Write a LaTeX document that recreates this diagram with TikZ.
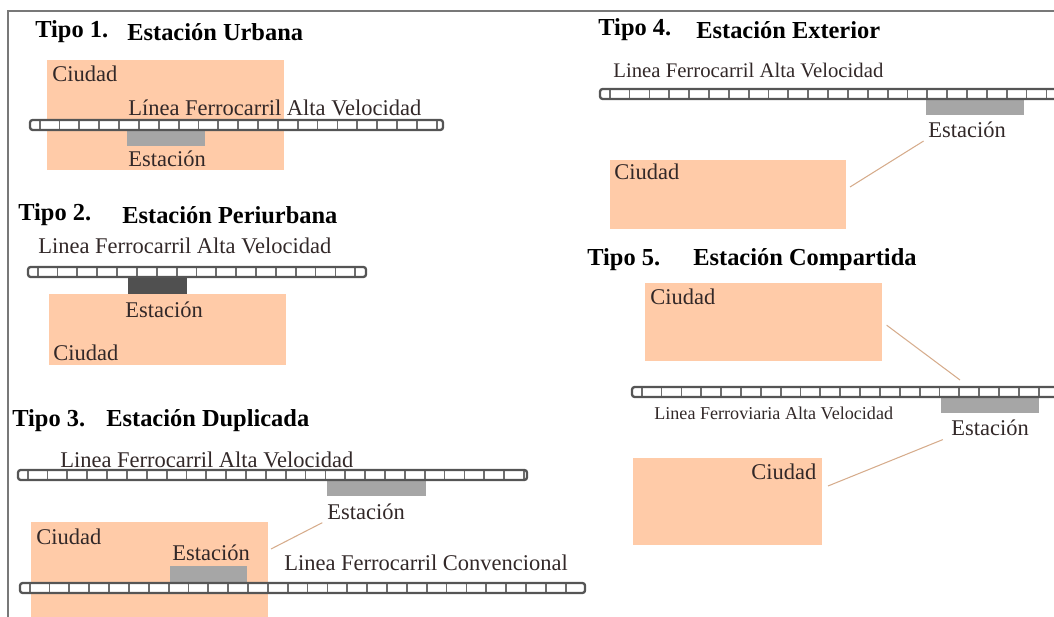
\documentclass[tikz,border=0pt]{standalone}
\usepackage{fontspec}
\setmainfont{Liberation Serif}
\newfontfamily\serifface{Liberation Serif}
\usetikzlibrary{fit}

\definecolor{peach}{RGB}{255,203,168}
\definecolor{stgray}{RGB}{166,166,166}
\definecolor{stdark}{RGB}{80,80,80}
\definecolor{railc}{RGB}{85,85,85}
\definecolor{tiec}{RGB}{110,110,110}
\definecolor{leadc}{RGB}{214,172,140}
\definecolor{ink}{RGB}{50,40,40}
\definecolor{framec}{RGB}{120,120,120}

% track: x from #1 to #2 at height #3 (px units)
\newcommand{\railtrack}[3]{%
  \fill[white] (#1,#3-5) rectangle (#2,#3+5);
  \draw[tiec, line width=4.5pt, dash pattern=on 1pt off 10.3pt, dash phase=-5pt] (#1,#3) -- (#2,#3);
  \draw[railc, line width=1.3pt, rounded corners=1.5pt] (#1,#3-5) rectangle (#2,#3+5);
}

\begin{document}
\begin{tikzpicture}[x=0.02cm, y=-0.02cm,
    cbox/.style={fill=peach, inner sep=0pt},
    stn/.style={fill=stgray, inner sep=0pt},
    ttl/.style={anchor=west, inner sep=0pt, font=\serifface\fontsize{13.9}{15}\selectfont\bfseries},
    lbl/.style={anchor=west, inner sep=0pt, text=ink, font=\serifface\fontsize{12.8}{14}\selectfont},
    leader/.style={leadc, line width=0.6pt}
]
    \useasboundingbox (0,0) rectangle (1054,617);
    \draw[framec, line width=0.9pt] (8,617) -- (8,11) -- (1054,11);

    % --- Tipo 1 ---
    \node[ttl] (t1a) at (35,32) {Tipo 1.};
    \node[ttl] (t1b) at (127,32) {Estación Urbana};
    \node[cbox, fit={(47,60) (284,170)}] (c1) {};
    \node[stn, fit={(127,129) (205,146)}] (s1) {};
    \railtrack{30}{443}{125}
    \node[lbl] (k1) at (52,74) {Ciudad};
    \node[lbl] (h1) at (128,108) {Línea Ferrocarril Alta Velocidad};
    \node[lbl] (e1) at (128,159) {Estación};

    % --- Tipo 2 ---
    \node[ttl] (t2a) at (18,215) {Tipo 2.};
    \node[ttl] (t2b) at (122,215) {Estación Periurbana};
    \node[cbox, fit={(49,294) (286,365)}] (c2) {};
    \node[stn, fill=stdark, fit={(128,276) (187,294)}] (s2) {};
    \railtrack{28}{366}{272}
    \node[lbl] (h2) at (38,246) {Linea Ferrocarril Alta Velocidad};
    \node[lbl] (e2) at (125,310) {Estación};
    \node[lbl] (k2) at (53,353) {Ciudad};

    % --- Tipo 3 ---
    \node[ttl] (t3a) at (12,421) {Tipo 3.};
    \node[ttl] (t3b) at (106,421) {Estación Duplicada};
    \node[cbox, fit={(31,522) (268,625)}] (c3) {};
    \node[stn, fit={(327,480) (426,496)}] (s3) {};
    \node[stn, fit={(170,566) (247,584)}] (s3b) {};
    \railtrack{18}{527}{475}
    \railtrack{20}{585}{588}
    \node[lbl] (h3) at (60,460) {Linea Ferrocarril Alta Velocidad};
    \node[lbl] (e3) at (327,512) {Estación};
    \node[lbl] (k3) at (36,537) {Ciudad};
    \node[lbl] (e3b) at (172,553) {Estación};
    \node[lbl] (h3b) at (284,563) {Linea Ferrocarril Convencional};
    \coordinate (q3) at (271,549);
    \draw[leader, shorten >=3pt] (q3) -- (e3.south west);

    % --- Tipo 4 ---
    \node[ttl] (t4a) at (598,30) {Tipo 4.};
    \node[ttl] (t4b) at (696,30) {Estación Exterior};
    \node[stn, fit={(926,99) (1024,115)}] (s4) {};
    \railtrack{600}{1062}{94}
    \node[lbl, font=\serifface\fontsize{11.8}{13}\selectfont] (h4) at (613,70) {Linea Ferrocarril Alta Velocidad};
    \node[lbl] (e4) at (928,130) {Estación};
    \node[cbox, fit={(610,160) (846,229)}] (c4) {};
    \node[lbl] (k4) at (614,172) {Ciudad};
    \coordinate (q4) at (850,187);
    \draw[leader, shorten >=3pt] (q4) -- (e4.south west);

    % --- Tipo 5 ---
    \node[ttl] (t5a) at (587,260) {Tipo 5.};
    \node[ttl] (t5b) at (693,260) {Estación Compartida};
    \node[cbox, fit={(645,283) (882,361)}] (c5) {};
    \node[cbox, fit={(633,458) (822,545)}] (c5b) {};
    \node[stn, fit={(941,397) (1039,413)}] (s5) {};
    \railtrack{632}{1062}{392}
    \node[lbl] (k5) at (650,297) {Ciudad};
    \node[lbl, font=\serifface\fontsize{10.3}{12}\selectfont] (h5) at (654,413) {Linea Ferroviaria Alta Velocidad};
    \node[lbl] (e5) at (951,428) {Estación};
    \node[lbl] (k5b) at (751,472) {Ciudad};
    \coordinate (q5) at (960,380);
    \coordinate (q5b) at (828,486);
    \draw[leader, shorten <=3pt] (c5.east) -- (q5);
    \draw[leader, shorten >=5pt] (q5b) -- (e5.south west);
\end{tikzpicture}
\end{document}
